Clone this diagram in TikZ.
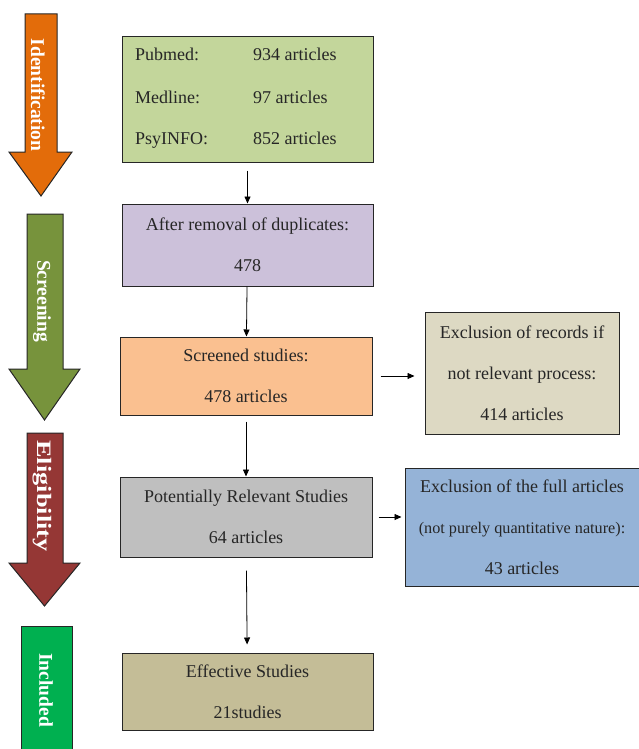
\documentclass[tikz,border=0pt]{standalone}
\usepackage{fontspec}
\setmainfont{Liberation Serif}
\usetikzlibrary{arrows.meta}
\definecolor{txt}{HTML}{262626}
\definecolor{cIdent}{HTML}{E36C0A}
\definecolor{cScreen}{HTML}{77933C}
\definecolor{cElig}{HTML}{953735}
\definecolor{cIncl}{HTML}{00B050}
\definecolor{bGreen}{HTML}{C3D69B}
\definecolor{bPurple}{HTML}{CCC1DA}
\definecolor{bOrange}{HTML}{FAC090}
\definecolor{bBeige}{HTML}{DDD9C3}
\definecolor{bGrey}{HTML}{BFBFBF}
\definecolor{bBlue}{HTML}{95B3D7}
\definecolor{bKhaki}{HTML}{C4BD97}
\tikzset{
  box/.style={draw=black!85, line width=1pt, inner sep=0pt, text=txt, align=center,
    font=\fontsize{18}{41}\selectfont},
  lbl/.style={text=txt, inner sep=0pt, font=\fontsize{18}{21}\selectfont},
  stage/.style={draw=black!85, line width=1pt},
  stagetxt/.style={text=white, rotate=-90, inner sep=0pt, font=\fontsize{19.5}{22}\selectfont\bfseries},
  conn/.style={-{Triangle[length=7pt,width=6pt]}, line width=0.8pt, black},
}
\begin{document}
\begin{tikzpicture}[x=1pt,y=-1pt]
\useasboundingbox (0,0) rectangle (639,749);
% stage arrows
\draw[stage, fill=cIdent] (25,14) -- (57,14) -- (57,152) -- (72,152) -- (41,196) -- (9,152) -- (25,152) -- cycle;
\node[stagetxt] (tident) at (38,95) {Identification};
\draw[stage, fill=cScreen] (27,214) -- (63,214) -- (63,369) -- (80,369) -- (44.5,420) -- (9,369) -- (27,369) -- cycle;
\node[stagetxt] (tscreen) at (42,301) {Screening};
\draw[stage, fill=cElig] (27,433) -- (63,433) -- (63,563) -- (80,563) -- (44.5,606) -- (9,563) -- (27,563) -- cycle;
\node[stagetxt] (telig) at (42,496) {\scalebox{1.35}[1.05]{Eligibility}};
\draw[stage, fill=cIncl] (21,762) -- (21,626) -- (72,626) -- (72,762);
\node[stagetxt] (tincl) at (46,690) {Included};
% boxes
\node[box, fill=bGreen, minimum width=251pt, minimum height=125pt] (src) at (247.5,99.5) {};
\node[lbl, anchor=base west] (l1a) at (135,61) {Pubmed:};
\node[lbl, anchor=base west] (l1b) at (253,61) {934 articles};
\node[lbl, anchor=base west] (l2a) at (135,103) {Medline:};
\node[lbl, anchor=base west] (l2b) at (253,103) {97 articles};
\node[lbl, anchor=base west] (l3a) at (135,144) {PsyINFO:};
\node[lbl, anchor=base west] (l3b) at (253,144) {852 articles};
\node[box, fill=bPurple, minimum width=251pt, minimum height=82pt] (dup) at (247.5,245) {After removal of duplicates:\\478};
\node[box, fill=bOrange, minimum width=252pt, minimum height=78pt] (scr) at (246,376) {Screened studies:\\478 articles};
\node[box, fill=bBeige, minimum width=194pt, minimum height=122pt] (ex1) at (522,373) {Exclusion of records if\\not relevant process:\\414 articles};
\node[box, fill=bGrey, minimum width=252pt, minimum height=80pt] (pot) at (246,517) {Potentially Relevant Studies\\64 articles};
\node[box, fill=bBlue, minimum width=234pt, minimum height=118pt] (ex2) at (522,527) {Exclusion of the full articles\\{\fontsize{16.2}{41}\selectfont (not purely quantitative nature):}\\43 articles};
\node[box, fill=bKhaki, minimum width=251pt, minimum height=77pt] (eff) at (247.5,691.5) {Effective Studies\\21studies};
% connectors
\draw[conn, shorten <=8pt] (src) -- (dup);
\draw[conn] (dup) -- (scr);
\draw[conn, shorten <=6pt] (scr) -- (pot);
\draw[conn, shorten <=13pt, shorten >=8pt] (pot) -- (eff);
\draw[conn, shorten <=8pt, shorten >=10pt] (scr.east) -- (scr.east -| ex1.west);
\draw[conn, shorten <=6pt, shorten >=3pt] (pot.east) -- (pot.east -| ex2.west);
\end{tikzpicture}
\end{document}
